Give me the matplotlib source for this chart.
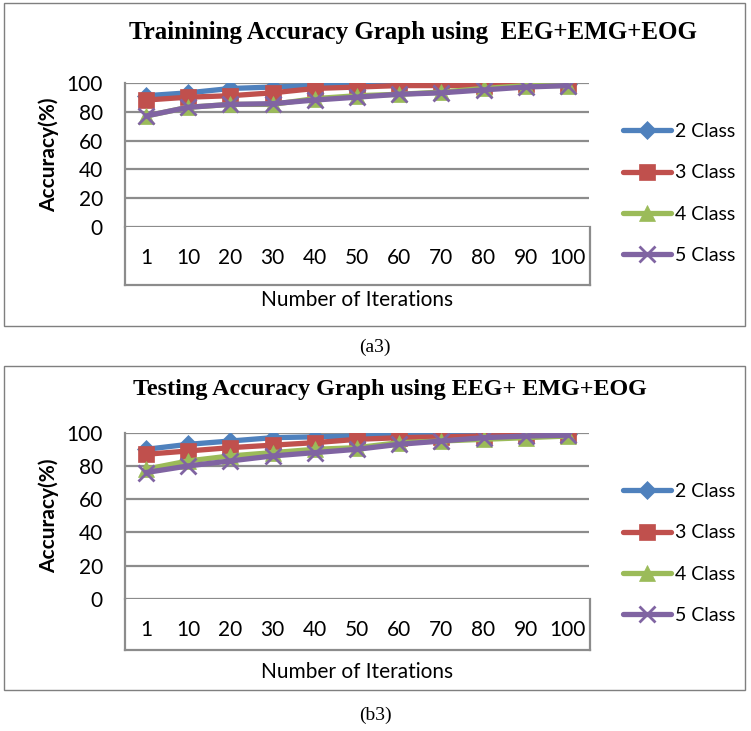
import numpy as np
import matplotlib.pyplot as plt
from matplotlib.lines import Line2D
from matplotlib.patches import Rectangle

# accuracy (%) per number of iterations
iterations = ['1', '10', '20', '30', '40', '50', '60', '70', '80', '90', '100']
series_names = ['2 Class', '3 Class', '4 Class', '5 Class']

train_2 = [91, 93, 96, 97, 98, 98, 99, 99, 99, 99, 99]
train_3 = [88, 90, 91, 93, 96, 97, 98, 98, 98, 99, 99]
train_4 = [77, 83, 85, 85, 89, 91, 92, 93.5, 96, 98, 98]
train_5 = [77, 83, 85, 85.5, 88, 90, 92, 93, 95, 97, 98]

test_2 = [90, 93, 95, 97, 97.5, 98, 98.5, 98.5, 99, 99, 99]
test_3 = [87, 89, 91, 92.5, 94, 96, 97, 97.5, 98, 98.5, 98.5]
test_4 = [78, 83, 86, 88, 90, 91, 94, 95, 96, 97, 98]
test_5 = [76, 80, 83, 86, 88, 90, 93, 95, 97, 98, 98.5]

colors = ['#4F81BD', '#C0504D', '#9BBB59', '#8064A2']
markers = ['D', 's', '^', 'x']
msizes = [9, 11, 11, 11]

W, H = 751, 731
GRID = '#8C8C8C'
SANS = ['Lato', 'DejaVu Sans']


def fx(x):
    return x / W


def fy(y):
    return 1 - y / H


def fig_line(fig, xs, ys, **kw):
    fig.add_artist(Line2D([fx(x) for x in xs], [fy(y) for y in ys],
                          transform=fig.transFigure, **kw))


def panel(fig, data, title, caption, frame, y100, y0, box_bottom, xlab_y,
          title_xy, title_size, cap_y, leg_top):
    # outer frame of the chart object
    fig.add_artist(Rectangle((fx(frame[0]), fy(frame[3])), fx(frame[2] - frame[0]),
                             (frame[3] - frame[1]) / H, transform=fig.transFigure,
                             fill=False, ec='#7F7F7F', lw=1.0))
    left, right = 125, 589
    ax = fig.add_axes([fx(left), fy(y0), fx(right - left), (y0 - y100) / H])
    x = np.arange(len(iterations))
    for vals, name, c, m, ms in zip(data, series_names, colors, markers, msizes):
        ax.plot(x, vals, color=c, lw=3.8, marker=m, ms=ms, mew=2 if m == 'x' else 0.5,
                mec=c, label=name, solid_capstyle='round')
    ax.set_xlim(-0.5, len(iterations) - 0.5)
    ax.set_ylim(0, 100)
    ax.set_yticks(range(0, 101, 20))
    ax.set_yticklabels([str(v) for v in range(0, 101, 20)], fontsize=15, family=SANS)
    ax.set_xticks(x)
    ax.set_xticklabels(iterations, fontsize=15, family=SANS)
    ax.tick_params(axis='x', length=0, pad=15)
    ax.tick_params(axis='y', length=0, pad=16)
    ax.yaxis.grid(True, color=GRID, lw=1.6)
    ax.set_axisbelow(True)
    for s in ['top', 'right', 'bottom']:
        ax.spines[s].set_visible(False)
    ax.spines['left'].set_color(GRID)
    ax.spines['left'].set_linewidth(1.6)
    ax.set_ylabel('Accuracy(%)', fontsize=15, fontweight='bold', family=SANS)
    ax.yaxis.set_label_coords(-(left - 59) / (right - left), 0.5)

    # box under the category axis
    fig_line(fig, [left, left], [y0, box_bottom], color=GRID, lw=1.6)
    fig_line(fig, [left, right + 1], [box_bottom, box_bottom], color=GRID, lw=1.6)
    fig_line(fig, [right + 1, right + 1], [y0, box_bottom], color=GRID, lw=1.6)

    fig.text(fx(357), fy(xlab_y), 'Number of Iterations', fontsize=15, family=SANS,
             ha='center', va='center')
    fig.text(fx(title_xy[0]), fy(title_xy[1]), title, fontsize=title_size,
             fontweight='bold', family='Liberation Serif', ha='center', va='center')
    fig.text(fx(375), fy(cap_y), caption, fontsize=14, family='Liberation Serif',
             ha='center', va='center')

    ax.legend(loc='upper left', bbox_to_anchor=(fx(623), fy(leg_top)),
              bbox_transform=fig.transFigure, frameon=False, borderpad=0,
              borderaxespad=0, handlelength=2.47, handletextpad=0.2,
              labelspacing=1.25, prop={'family': SANS, 'size': 14})
    return ax


fig = plt.figure(figsize=(W / 100, H / 100), dpi=100)

panel(fig, [train_2, train_3, train_4, train_5],
      'Trainining Accuracy Graph using  EEG+EMG+EOG', '(a3)',
      frame=(4, 3, 745, 326), y100=82.7, y0=227.3, box_bottom=285, xlab_y=300,
      title_xy=(413, 32), title_size=18, cap_y=347, leg_top=123)

panel(fig, [test_2, test_3, test_4, test_5],
      'Testing Accuracy Graph using EEG+ EMG+EOG', '(b3)',
      frame=(4, 366, 745, 690), y100=432.7, y0=598.7, box_bottom=650, xlab_y=672,
      title_xy=(390, 390), title_size=17.4, cap_y=715, leg_top=483)

fig.savefig('out.png', dpi=100)
